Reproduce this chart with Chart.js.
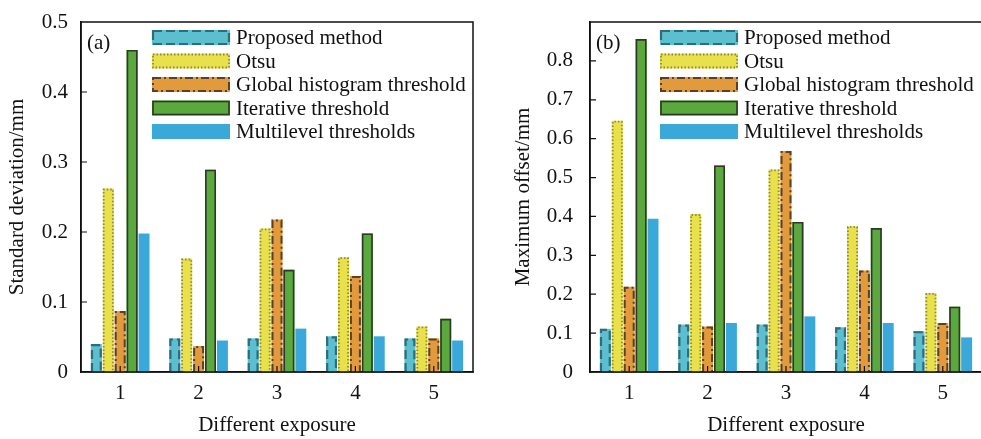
<!DOCTYPE html>
<html>
<head>
<meta charset="utf-8">
<script src="https://cdn.jsdelivr.net/npm/chart.js@4.4.1/dist/chart.umd.min.js"></script>
<style>
  html, body { margin: 0; padding: 0; background: #fff; overflow: hidden; width: 981px; height: 439px; }
  .panel { position: absolute; top: 0; height: 439px; }
  #pa { left: 0; width: 490px; }
  #pb { left: 490px; width: 493px; }
</style>
</head>
<body>
<div class="panel" id="pa"><canvas id="chartA" width="490" height="439"></canvas></div>
<div class="panel" id="pb"><canvas id="chartB" width="493" height="439"></canvas></div>
<script>
const exposures = ["1", "2", "3", "4", "5"];
const methods = ["Proposed method", "Otsu", "Global histogram threshold", "Iterative threshold", "Multilevel thresholds"];

// (a) standard deviation, mm
const stdProposed   = [0.040, 0.048, 0.048, 0.051, 0.048];
const stdOtsu       = [0.262, 0.162, 0.205, 0.164, 0.065];
const stdGlobal     = [0.087, 0.037, 0.218, 0.137, 0.048];
const stdIterative  = [0.460, 0.289, 0.146, 0.198, 0.076];
const stdMultilevel = [0.198, 0.045, 0.062, 0.051, 0.045];

// (b) maximum offset, mm
const offProposed   = [0.111, 0.122, 0.122, 0.115, 0.105];
const offOtsu       = [0.646, 0.406, 0.521, 0.375, 0.203];
const offGlobal     = [0.219, 0.117, 0.568, 0.261, 0.126];
const offIterative  = [0.856, 0.531, 0.386, 0.370, 0.168];
const offMultilevel = [0.394, 0.126, 0.143, 0.126, 0.089];

const fills   = ["#5cbfcf", "#e8e14c", "#e29b3c", "#5aa83e", "#3aa9d9"];
const lines   = ["#2e6b7b", "#8f8a3c", "#5b4027", "#2b3a23", null];
const dashes  = [[9, 4], [1.5, 2], [8, 3, 2, 3], [], []];
const widths  = [2.2, 1.8, 2, 1.6, 0];

const FONT = "'Liberation Serif', 'Times New Roman', serif";
const FS = 21;

function makeDatasets(series) {
  return series.map((vals, i) => ({
    label: methods[i],
    data: vals,
    backgroundColor: fills[i],
    borderWidth: 0,
    outlineColor: lines[i],
    outlineDash: dashes[i],
    outlineWidth: widths[i],
    categoryPercentage: 0.76,
    barPercentage: 0.92
  }));
}

const decor = {
  id: "decor",
  afterDatasetsDraw(chart) {
    const ctx = chart.ctx;
    chart.data.datasets.forEach((ds, i) => {
      if (!ds.outlineColor) return;
      chart.getDatasetMeta(i).data.forEach(bar => {
        const { x, y, base, width } = bar.getProps(["x", "y", "base", "width"], true);
        const h = ds.outlineWidth / 2;
        const l = x - width / 2 + h, r = x + width / 2 - h;
        ctx.save();
        ctx.strokeStyle = ds.outlineColor;
        ctx.lineWidth = ds.outlineWidth;
        ctx.setLineDash(ds.outlineDash);
        ctx.beginPath();
        ctx.moveTo(l, base);
        ctx.lineTo(l, y + h);
        ctx.lineTo(r, y + h);
        ctx.lineTo(r, base);
        ctx.stroke();
        ctx.restore();
      });
    });
  },
  afterDraw(chart, args, opts) {
    const ctx = chart.ctx;
    const a = chart.chartArea;
    const xs = chart.scales.x, ys = chart.scales.y;
    ctx.save();
    // frame
    ctx.strokeStyle = "#111";
    ctx.lineWidth = 1.5;
    ctx.strokeRect(a.left, a.top, a.right - a.left, a.bottom - a.top);
    // inward tick marks
    ctx.lineWidth = 1.2;
    ctx.beginPath();
    ys.ticks.forEach((t, i) => {
      if (t.value <= ys.min || t.value >= ys.max) return;
      const py = ys.getPixelForTick(i);
      ctx.moveTo(a.left, py);
      ctx.lineTo(a.left + 6, py);
    });
    xs.ticks.forEach((t, i) => {
      const px = xs.getPixelForTick(i);
      ctx.moveTo(px, a.bottom);
      ctx.lineTo(px, a.bottom - 6);
    });
    ctx.stroke();
    // panel tag
    ctx.fillStyle = "#111";
    ctx.font = FS + "px " + FONT;
    ctx.textBaseline = "middle";
    ctx.textAlign = "left";
    ctx.fillText(opts.tag, a.left + 6, a.top + 21);
    // legend
    const lx = a.left + opts.legendX;
    chart.data.datasets.forEach((ds, i) => {
      const cy = a.top + 15.5 + i * 23.5;
      const bx = lx, by = cy - 7.5, bw = 78, bh = 15;
      ctx.fillStyle = ds.backgroundColor;
      ctx.fillRect(bx, by, bw, bh);
      if (ds.outlineColor) {
        ctx.save();
        ctx.strokeStyle = ds.outlineColor;
        ctx.lineWidth = ds.outlineWidth;
        ctx.setLineDash(ds.outlineDash);
        ctx.strokeRect(bx + 1, by + 1, bw - 2, bh - 2);
        ctx.restore();
      }
      ctx.fillStyle = "#111";
      ctx.fillText(ds.label, bx + bw + 6, cy + 1);
    });
    ctx.restore();
  }
};

function makeChart(id, series, yMax, yTitle, tag, opts) {
  return new Chart(document.getElementById(id), {
    type: "bar",
    data: { labels: exposures, datasets: makeDatasets(series) },
    plugins: [decor],
    options: {
      responsive: false,
      animation: false,
      layout: { padding: { top: 22, right: opts.padRight, left: 0, bottom: 0 } },
      plugins: {
        legend: { display: false },
        tooltip: { enabled: false },
        decor: { tag: tag, legendX: opts.legendX }
      },
      scales: {
        x: {
          grid: { display: false, drawTicks: false },
          border: { display: true, color: "#111", width: 1.5 },
          ticks: { color: "#111", font: { family: FONT, size: FS }, padding: 9 },
          title: {
            display: true, text: "Different exposure", color: "#111",
            font: { family: FONT, size: FS }, padding: { top: 0, bottom: 1 }
          },
          afterFit: s => { s.height = 67; s.paddingLeft = 0; s.paddingRight = 0; }
        },
        y: {
          min: 0, max: yMax,
          grid: { display: false, drawTicks: false },
          border: { display: true, color: "#111", width: 1.5 },
          ticks: {
            stepSize: 0.1, color: "#111", padding: opts.tickPad,
            font: { family: FONT, size: FS },
            callback: v => (Math.abs(v - 0.9) < 1e-6 ? "" : (v === 0 ? "0" : v.toFixed(1)))
          },
          title: {
            display: true, text: yTitle, color: "#111",
            font: { family: FONT, size: FS }, padding: { top: opts.titlePad, bottom: 0 }
          },
          afterFit: s => { s.width = opts.axisLeft; s.paddingTop = 0; s.paddingBottom = 0; }
        }
      }
    }
  });
}

makeChart("chartA",
  [stdProposed, stdOtsu, stdGlobal, stdIterative, stdMultilevel],
  0.5, "Standard deviation/mm", "(a)",
  { padRight: 17, axisLeft: 81, tickPad: 13, titlePad: 5, legendX: 71 });

makeChart("chartB",
  [offProposed, offOtsu, offGlobal, offIterative, offMultilevel],
  0.9, "Maximum offset/mm", "(b)",
  { padRight: 1, axisLeft: 100, tickPad: 17, titlePad: 21, legendX: 70 });
</script>
</body>
</html>
